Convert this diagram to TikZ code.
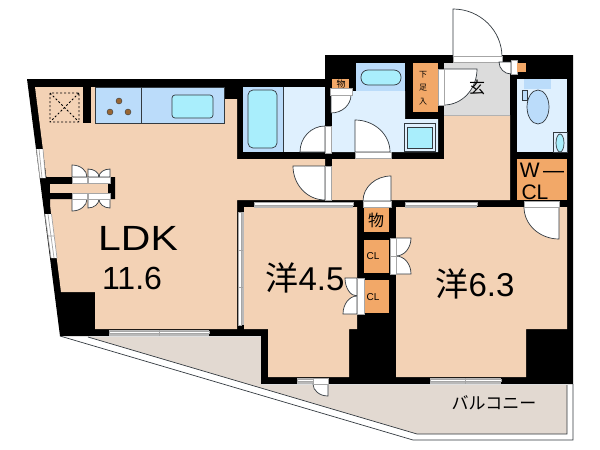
\documentclass[tikz,border=0pt]{standalone}
\usepackage{fontspec}
\setmainfont{Liberation Sans}
\newfontfamily\jp{Noto Sans CJK JP}
\usetikzlibrary{calc}
\definecolor{floorc}{HTML}{F3D2B5}
\definecolor{closetc}{HTML}{F2A868}
\definecolor{wetc}{HTML}{DFF0FE}
\definecolor{kitc}{HTML}{BBDCFA}
\definecolor{tubc}{HTML}{A9EEFC}
\definecolor{genc}{HTML}{DCDCDC}
\definecolor{balc}{HTML}{E2D9D1}
\definecolor{linec}{HTML}{333A40}
\tikzset{
 wall/.style={fill=black,draw=none},
 room/.style={fill=floorc,draw=none},
 wet/.style={fill=wetc,draw=none},
 closet/.style={fill=closetc,draw=none},
 fixture/.style={draw=linec,line width=0.7pt},
 doorleaf/.style={fill=white,draw=linec,line width=0.7pt},
 sill/.style={fill=white,draw=gray!70,line width=0.5pt},
 pane/.style={fill=gray!55,draw=none},
 parapet/.style={draw=linec,line width=0.7pt},
 label/.style={inner sep=0pt,text=black},
}
% centre of the quarter circle, then its two ends
\newcommand{\qdoor}[3]{%
 \coordinate (h) at (#1); \coordinate (a) at (#2); \coordinate (b) at (#3);
 \draw[doorleaf] (h)--(a) .. controls ($(a)+0.5523*(b)-0.5523*(h)$) and ($(b)+0.5523*(a)-0.5523*(h)$) .. (b) -- cycle;}
\newcommand{\hwin}[3]{%
 \fill[pane] (#1,#3) rectangle (#2,#3+6);
 \draw[sill] (#1,#3+1) rectangle (#2,#3+3.5);}
\newcommand{\vwin}[3]{%
 \fill[pane] (#1,#2) rectangle (#1+6,#3);
 \draw[sill] (#1+1,#2) rectangle (#1+3.5,#3);}
\newcommand{\fs}[1]{\fontsize{#1}{#1}\selectfont}
\begin{document}
\begin{tikzpicture}[x=1pt,y=-1pt]
\useasboundingbox (0,0) rectangle (600,450);
\fill[white] (0,0) rectangle (600,450);
% balcony
\fill[balc] (88,337)--(261,337)--(261,385)--(567,385)--(567,434)--(417,434)--cycle;
\draw[parapet] (88,337)--(417,434)--(567,434)--(567,385);
\draw[parapet] (60,336)--(413,440)--(573,440)--(573,384);
% building mass
\fill[wall] (27,79)--(325,79)--(325,55)--(573,55)--(573,384)--(261,384)--(261,336)--(60,336)--cycle;
% LDK floor
\fill[room] (35,87)--(224,87)--(224,99)--(237,99)--(237,159)--(325,159)--(325,200)--(237,200)--(237,329)--(95,329)--(95,292)--(61,292)--cycle;
% rooms
\fill[room] (244,207)--(357,207)--(357,329)--(349,329)--(349,377)--(268,377)--(268,329)--(244,329)--cycle;
\fill[room] (396,207)--(567,207)--(567,329)--(526,329)--(526,377)--(396,377)--cycle;
\fill[room] (332,159)--(444,159)--(444,115)--(510,115)--(510,200)--(332,200)--cycle;
\fill[genc] (444,63)rectangle(510,115);
\draw[gray!60,line width=0.5pt] (444,115)--(510,115);
% wet rooms
\fill[wet] (283,87) rectangle (325,152);
\fill[kitc] (243,87) rectangle (283,152);
\draw[fixture] (283,87)--(283,152);
\fill[wet] (332,95)--(352,95)--(352,91)--(405,91)--(405,119)--(438,119)--(438,152)--(332,152)--cycle;
\fill[kitc] (356,63) rectangle (405,91);
\fill[wet] (517,79) rectangle (567,152);
% kitchen
\fill[wall] (83,87) rectangle (91,123);
\draw[fixture,fill=kitc] (95,87) rectangle (224,123);
\draw[fixture] (141,87)--(141,123);
\foreach \p/\q in {119/101,110/112,128/112}{\fill[fill=brown!80!black,draw=linec,line width=0.4pt] (\p,\q) circle (3);}
\draw[fixture,fill=tubc,rounded corners=3pt] (172,95) rectangle (213,118);
\draw[black,dash pattern=on 2pt off 2pt,line width=0.8pt] (50,93) rectangle (79,122) (50,93)--(79,122) (79,93)--(50,122);
% bath
\draw[fixture,fill=tubc,rounded corners=5pt] (248,90) rectangle (277,148);
% bay closet on the left
\fill[wall] (40,177)--(115,177)--(115,199)--(50,199)--(50,214)--(45,214)--cycle;
\fill[room] (50,184) rectangle (108,193);
% left wall windows
\fill[white] (36.5,149)--(43,149)--(45.5,178)--(40,178)--cycle;
\draw[gray!70,line width=0.7pt] (36.5,149)--(40,178) (39,149)--(42,178) (43,149)--(45.5,178);
\fill[white] (45,214)--(51.5,214)--(57,258)--(51,258)--cycle;
\draw[gray!70,line width=0.7pt] (45,214)--(51,258) (48,214)--(54,258) (51.5,214)--(57,258) (47.5,236)--(54,236);
% bifold doors top/bottom
\qdoor{72,177}{72,165}{87,177}
\qdoor{88,177}{88,169}{99,177}
\qdoor{110,177}{110,169}{99,177}
\qdoor{72,199}{72,211}{87,199}
\qdoor{88,199}{88,208}{99,199}
\qdoor{110,199}{110,208}{99,199}
\draw[sill] (72,177) rectangle (87.5,183);
\draw[sill] (88.5,177) rectangle (110,183);
\draw[sill] (72,193) rectangle (87.5,199);
\draw[sill] (88.5,193) rectangle (110,199);
% windows
\hwin{109}{209}{330}
\draw[gray!70] (159,330)--(159,336);
\hwin{254}{353}{201.5}
\hwin{405}{477}{201.5}
\hwin{430}{501}{378}
\draw[gray!70] (465,378)--(465,384);
\hwin{297}{313}{378}
\vwin{237.5}{212}{325}
\draw[gray!70] (238,250)--(243,250) (238,287)--(243,287);
% doors
\qdoor{453,57}{453,9}{502,57}
\draw[sill] (453,56.5) rectangle (502,62);
\qdoor{511,62}{499,62}{511,74}
\draw[sill] (511,60.5) rectangle (517,74);
\fill[closet] (517,63) rectangle (526,72);
\qdoor{444,69}{477,69}{444,105}
\draw[sill] (438,69) rectangle (444,105);
\qdoor{331,95}{351,95}{331,113}
\draw[sill] (330,88) rectangle (352,95);
\fill[closet] (332,79) rectangle (349,88);
\qdoor{355,152}{355,120}{390,152}
\draw[sill] (355,152.5) rectangle (391,158.5);
\qdoor{325,152}{325,126}{300,152}
\draw[sill] (325,126) rectangle (331.5,153);
\qdoor{325,166}{293,166}{325,200}
\draw[sill] (325,166) rectangle (331,200);
\qdoor{391,201}{391,176}{363,201}
\draw[sill] (363,201.5) rectangle (391,207);
\qdoor{559,207}{524,207}{559,239}
\draw[sill] (524,201.5) rectangle (559,207);
\qdoor{328,384}{313,384}{328,396}
\draw[sill] (313,378) rectangle (328,384);
% closets
\fill[closet] (413,63) rectangle (438,112);
\fill[closet] (517,159) rectangle (567,200);
\fill[closet] (364,208) rectangle (389,232);
\fill[closet] (364,240) rectangle (389,273);
\fill[closet] (364,280) rectangle (389,313);
\qdoor{396,238}{411,238}{396,256}
\qdoor{396,274}{411,274}{396,256}
\draw[sill] (390,238) rectangle (396,274);
\draw[gray!70] (390,256)--(396,256);
\qdoor{357,278}{345,278}{357,296}
\qdoor{357,314}{343,314}{357,296}
\draw[sill] (357,278) rectangle (364,314);
% wash fixtures
\draw[fixture,fill=tubc,rounded corners=7pt] (361,70) rectangle (401,85);
\draw[fixture,fill=wetc] (404,123) rectangle (435,151);
\draw[fixture,fill=tubc] (407,127) rectangle (432,148);
% toilet
\fill[kitc] (524,79) rectangle (551,89);
\draw[fixture,fill=kitc] (538,107) ellipse (11 and 17);
\draw[fixture,fill=kitc] (522,90) rectangle (527,100);
\draw[fixture,fill=wetc] (553,132) rectangle (567,152);
\draw[fixture,fill=tubc] (560,143) ellipse (4 and 9);
% text
\node[label,xscale=1.17,transform shape] (ldk) at (138,238) {\fs{35}LDK};
\node[label] (area) at (132,278) {\fs{32}11.6};
\node[label] (y45) at (305,278) {\jp\fs{33}洋\fontspec{Liberation Sans}4.5};
\node[label] (y63) at (475,284) {\jp\fs{33}洋\fontspec{Liberation Sans}6.3};
\node[label] (bal) at (494,403) {\jp\fs{17}バルコニー};
\node[label] (mono) at (376,220) {\jp\fs{16}物};
\node[label] (cl1) at (373,256.5) {\fs{10}CL};
\node[label] (cl2) at (373,297) {\fs{10}CL};
\node[label] (w) at (542,170) {\fs{21}W\,—};
\node[label] (cl3) at (535,192) {\fs{21}CL};
\node[label] (gen) at (477,87) {\jp\fs{16}玄};
\node[label] (mono2) at (341,84) {\jp\fs{9}物};
\node[label,align=center] (shoe) at (423,88) {\jp\fs{8}下\\[1.5pt]\jp\fs{8}足\\[1.5pt]\jp\fs{8}入};
\end{tikzpicture}
\end{document}
